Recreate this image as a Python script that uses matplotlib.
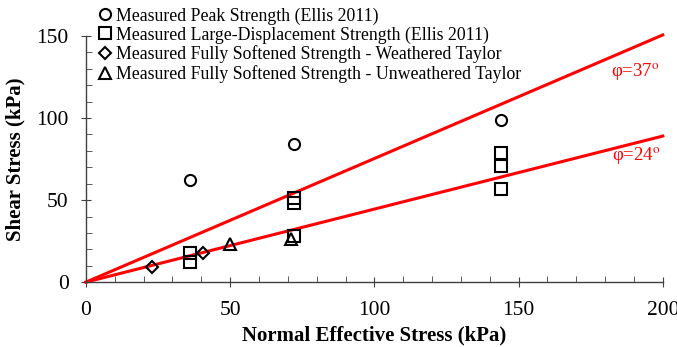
import numpy as np
import matplotlib.pyplot as plt
from matplotlib.ticker import MultipleLocator

plt.rcParams['font.family'] = ['Liberation Serif', 'DejaVu Serif']
plt.rcParams['mathtext.fontset'] = 'stix'

# measured strengths (normal effective stress, shear stress) in kPa
peak_x = [36, 72, 144]
peak_y = [62, 84, 99]
large_disp_x = [36, 36, 72, 72, 72, 144, 144, 144]
large_disp_y = [18, 12.5, 51.5, 48.5, 28, 78.5, 70.5, 56.5]
weathered_x = [23, 40.5]
weathered_y = [9.5, 17.5]
unweathered_x = [50, 71]
unweathered_y = [23.5, 26]

# friction angles for the strength envelopes (degrees)
phi_angles = [37, 24]

fig = plt.figure(figsize=(6.77, 3.47), dpi=100)
ax = fig.add_axes([0.127, 0.187, 0.852, 0.709])

ms = 8
ax.plot(peak_x, peak_y, 'o', mfc='none', mec='black', mew=1.5, ms=ms,
        label='Measured Peak Strength (Ellis 2011)', clip_on=False, zorder=3)
ax.plot(large_disp_x, large_disp_y, 's', mfc='none', mec='black', mew=1.5, ms=ms,
        label='Measured Large-Displacement Strength (Ellis 2011)', clip_on=False, zorder=3)
ax.plot(weathered_x, weathered_y, 'D', mfc='none', mec='black', mew=1.5, ms=6.5,
        label='Measured Fully Softened Strength - Weathered Taylor', clip_on=False, zorder=3)
ax.plot(unweathered_x, unweathered_y, '^', mfc='none', mec='black', mew=1.5, ms=ms,
        label='Measured Fully Softened Strength - Unweathered Taylor', clip_on=False, zorder=3)

xs = np.array([0, 200])
for phi in phi_angles:
    ax.plot(xs, xs * np.tan(np.radians(phi)), color='red', lw=2.2, clip_on=False, zorder=2)

ax.text(182, 128, r'φ=37$^{\mathrm{o}}$', color='red', fontsize=13.5, va='center', ha='left')
ax.text(182.5, 76.5, r'φ=24$^{\mathrm{o}}$', color='red', fontsize=13.5, va='center', ha='left')

ax.set_xlim(0, 200)
ax.set_ylim(0, 150)
ax.xaxis.set_major_locator(MultipleLocator(50))
ax.xaxis.set_minor_locator(MultipleLocator(10))
ax.yaxis.set_major_locator(MultipleLocator(50))
ax.yaxis.set_minor_locator(MultipleLocator(10))

ax.spines['top'].set_visible(False)
ax.spines['right'].set_visible(False)
for side in ['left', 'bottom']:
    ax.spines[side].set_color('#404040')
    ax.spines[side].set_linewidth(1.0)

ax.tick_params(which='major', direction='inout', length=7, color='#404040', labelsize=15.5)
ax.tick_params(which='minor', direction='in', length=4, color='#404040')
ax.tick_params(axis='x', which='major', pad=10)
ax.tick_params(axis='y', which='major', pad=9)

ax.set_xlabel('Normal Effective Stress (kPa)', fontsize=15, fontweight='bold', labelpad=4)
ax.set_ylabel('Shear Stress (kPa)', fontsize=15, fontweight='bold', labelpad=8)

ax.legend(loc='upper left', bbox_to_anchor=(0.003, 1.146), frameon=False, fontsize=12.8,
          handletextpad=0.0, handlelength=1.2, labelspacing=0.1, borderaxespad=0)

fig.savefig('out.png', dpi=100)
